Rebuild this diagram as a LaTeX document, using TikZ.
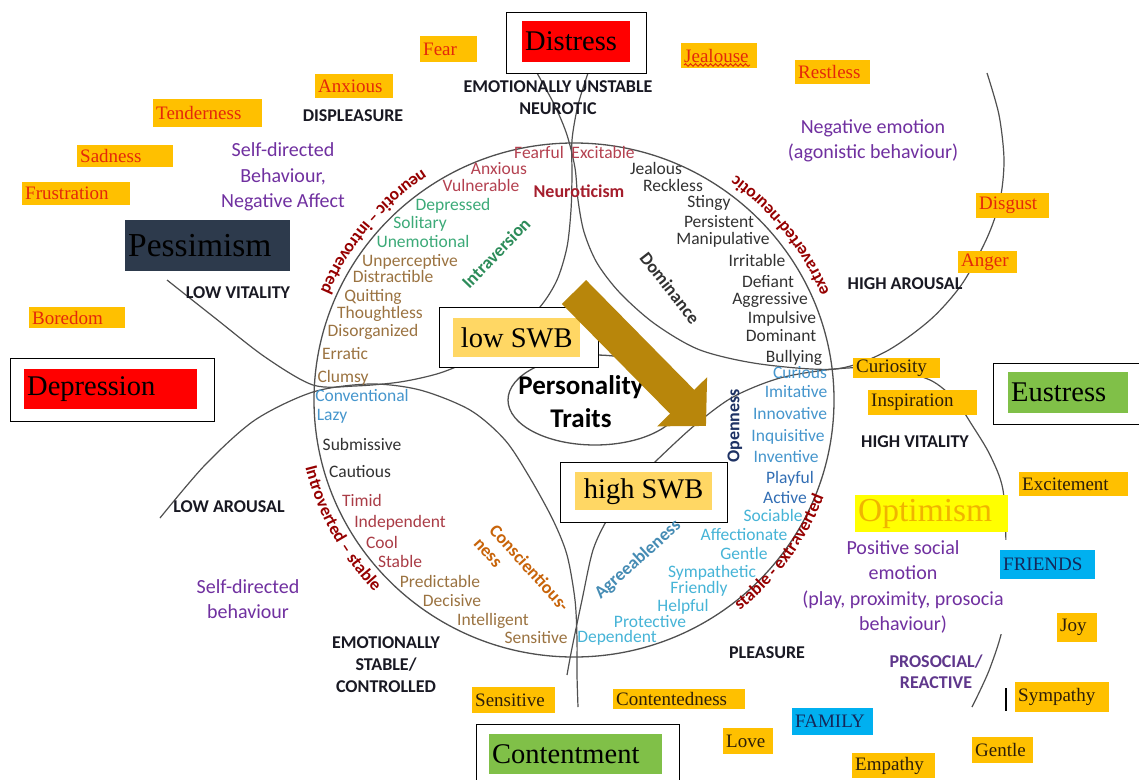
\documentclass[tikz,border=0pt]{standalone}
\usepackage{fontspec}
\setmainfont{Liberation Serif}
\newfontfamily\carlito{Carlito}
\usetikzlibrary{
    arrows.meta,
    decorations.text,
    decorations.pathmorphing
}
\lefthyphenmin=64

\definecolor{boxorange}{RGB}{255,192,0}
\definecolor{emored}{RGB}{228,40,10}
\definecolor{emodark}{RGB}{45,30,10}
\definecolor{alarmred}{RGB}{255,0,0}
\definecolor{slate}{RGB}{45,58,76}
\definecolor{leafgreen}{RGB}{128,192,72}
\definecolor{sunyellow}{RGB}{255,255,0}
\definecolor{sungold}{RGB}{240,180,0}
\definecolor{swbgold}{RGB}{255,215,100}
\definecolor{skyblue}{RGB}{0,176,240}
\definecolor{navytext}{RGB}{20,40,90}
\definecolor{moodpurple}{RGB}{112,48,160}
\definecolor{prosocpurple}{RGB}{95,55,140}
\definecolor{capsink}{RGB}{25,25,35}
\definecolor{rimred}{RGB}{150,0,0}
\definecolor{neurored}{RGB}{180,65,80}
\definecolor{neurobold}{RGB}{165,30,45}
\definecolor{domgray}{RGB}{50,50,50}
\definecolor{introgreen}{RGB}{60,170,120}
\definecolor{introbold}{RGB}{45,140,90}
\definecolor{conbrown}{RGB}{155,115,65}
\definecolor{stablered}{RGB}{170,60,70}
\definecolor{openblue}{RGB}{70,150,205}
\definecolor{activeblue}{RGB}{50,110,180}
\definecolor{agreecyan}{RGB}{70,180,215}
\definecolor{agreebold}{RGB}{70,140,180}
\definecolor{openbold}{RGB}{30,50,100}
\definecolor{conscorange}{RGB}{200,100,10}
\definecolor{arrowgold}{RGB}{184,134,11}
\definecolor{linegray}{RGB}{80,80,80}

\newcommand\traitfont{\carlito\fontsize{17.5}{19}\selectfont}
\newcommand\axisfont{\carlito\bfseries\fontsize{18}{19}\selectfont}
\newcommand\capsfont{\carlito\bfseries\fontsize{18}{22}\selectfont}
\newcommand\moodfont{\carlito\fontsize{20}{25.5}\selectfont}
\newcommand\rimfont{\carlito\bfseries\fontsize{17.5}{18}\selectfont}
\newcommand\boxfont{\fontsize{19}{22}\selectfont}
\newcommand\bigboxfont{\fontsize{28.5}{32}\selectfont}
\newcommand\hugeboxfont{\fontsize{33.5}{36}\selectfont}

\tikzset{%
    rim/.style={%
        draw=linegray,
        line width=1.3pt
    },
    petal/.style={%
        draw=linegray,
        line width=1.2pt
    },
    rim text/.style={%
        decorate,
        decoration={text along path, text align=center,
            text color=rimred, text={|\rimfont|#1}}
    },
    trait/.style={%
        font=\traitfont,
        inner sep=0pt,
        text height=12pt,
        text depth=3.5pt
    },
    axis label/.style={%
        font=\axisfont,
        inner sep=0pt
    },
    caps label/.style={%
        font=\capsfont,
        text=capsink,
        align=center,
        inner sep=0pt
    },
    mood label/.style={%
        font=\moodfont,
        text=moodpurple,
        align=center,
        inner sep=0pt
    },
    emotion/.style={%
        font=\boxfont,
        fill=boxorange,
        text=emored,
        anchor=north west,
        align=left,
        inner xsep=3pt,
        inner ysep=0pt
    },
    calm emotion/.style={%
        emotion,
        text=emodark
    },
    group/.style={%
        emotion,
        fill=skyblue,
        text=navytext
    },
    frame/.style={%
        draw=black,
        line width=1.4pt,
        fill=white,
        anchor=north west,
        inner sep=0pt
    },
    state/.style={%
        font=\bigboxfont,
        text=black,
        anchor=north west,
        align=left,
        inner xsep=3pt,
        inner ysep=0pt
    },
    swb/.style={%
        font=\bigboxfont,
        fill=swbgold,
        text=black,
        anchor=north west,
        inner sep=0pt
    },
    swb arrow/.style={%
        draw=arrowgold,
        line width=34pt,
        -{Triangle[length=34pt, width=68pt]}
    },
    spell mark/.style={%
        draw=emored,
        line width=0.9pt,
        decorate,
        decoration={snake, amplitude=1.3pt, segment length=5pt}
    }
}

\begin{document}
\begin{tikzpicture}[x=1pt, y=-1pt]
    \fill[white] (0,0) rectangle (1139,779);
    \useasboundingbox (0,0) rectangle (1139,779);

    % circle of traits and the four petals
    \draw[rim] (574,400) ellipse[x radius=260pt, y radius=257pt];
    \draw[rim] (595,400) ellipse[x radius=87pt, y radius=45pt];

    \draw[petal] plot[smooth] coordinates {(537,73) (555,106) (567,135) (575,168) (578,200)
        (584,232) (597,263) (620,293) (655,324) (700,350) (760,364) (835,369) (885,352)
        (930,320) (962,284) (987,238) (1000,200) (1004,160) (999,115) (987,73)};
    \draw[petal] plot[smooth] coordinates {(588,73) (578,105) (572,140) (572,175) (571,210)
        (567,247) (557,280) (540,307) (510,336) (475,358) (440,373) (400,382) (355,386)
        (313,385) (265,357) (215,318) (167,280)};
    \draw[petal] plot[smooth] coordinates {(160,518) (205,465) (255,420) (313,392) (370,384)
        (420,390) (470,410) (505,440) (530,478) (553,520) (567,555) (575,600) (577,640)
        (577,675) (578,707)};
    \draw[petal] plot[smooth] coordinates {(567,675) (572,648) (582,600) (593,550) (608,518)
        (627,490) (657,460) (695,425) (733,397) (780,378) (835,369) (885,368) (930,380)
        (955,400) (972,425) (990,455) (1003,490) (1006,550) (1004,620) (990,668) (972,707)};

    \path[rim text={neurotic – introverted}] ([shift={(574,400)}]115:276pt)
        arc[start angle=115, end angle=165, radius=276pt];
    \path[rim text={extraverted-neurotic}] ([shift={(574,400)}]15:277pt)
        arc[start angle=15, end angle=62, radius=277pt];
    \path[rim text={stable - extraverted}] ([shift={(574,400)}]-60:268pt)
        arc[start angle=-60, end angle=-13, radius=268pt];
    \path[rim text={Introverted – stable}] ([shift={(574,400)}]185:277pt)
        arc[start angle=185, end angle=233, radius=277pt];

    % purple behaviour texts (the last one hides the petal behind it)
    \node[mood label] (negaffect) at (283,177) {Self-directed\\Behaviour,\\Negative Affect};
    \node[mood label] (agonistic) at (873,141) {Negative emotion\\(agonistic behaviour)};
    \node[mood label] (selfdirected) at (248,599) {Self-directed\\behaviour};
    \node[mood label, fill=white, minimum width=208pt] (possocial) at (903,587) {Positive social\\emotion\\(play, proximity, prosocia\\behaviour)};

    % states in frames
    \node[frame, minimum width=140pt, minimum height=61pt] (distressframe) at (506,12) {};
    \node[state, fill=alarmred, text width=102pt, minimum height=41pt] (distress) at (522,21) {Distress};
    \node[frame, minimum width=204pt, minimum height=63pt] (depressionframe) at (10,358) {};
    \node[state, fill=alarmred, text width=167pt, minimum height=40pt] (depression) at (24,369) {Depression};
    \node[frame, minimum width=149pt, minimum height=61pt] (eustressframe) at (993,363) {};
    \node[state, fill=leafgreen, text width=114pt, minimum height=41pt] (eustress) at (1008,372) {Eustress};
    \node[frame, minimum width=203pt, minimum height=66pt] (contentmentframe) at (476,724) {};
    \node[state, fill=leafgreen, text width=167pt, minimum height=40pt] (contentment) at (489,734) {Contentment};
    \node[state, font=\hugeboxfont, fill=slate, text width=159pt, minimum height=51pt] (pessimism) at (125,220) {Pessimism};
    \node[state, font=\hugeboxfont, fill=sunyellow, text=sungold, text width=147pt, minimum height=37pt] (optimism) at (855,495) {Optimism};

    \node[frame, minimum width=159pt, minimum height=60pt] (lowswbframe) at (439,307) {};
    \node[swb, minimum width=127pt, minimum height=39pt] (lowswb) at (453,318) {low SWB};
    \node[frame, minimum width=167pt, minimum height=60pt] (highswbframe) at (560,462) {};
    \node[swb, minimum width=137pt, minimum height=38pt] (highswb) at (575,472) {high SWB};

    % emotions
    \node[emotion, text width=51pt, minimum height=26pt] (fear) at (420,36) {Fear};
    \node[emotion, text width=72pt, minimum height=24pt] (anxiousbox) at (315,74) {Anxious};
    \node[emotion, text width=103pt, minimum height=28pt] (tenderness) at (153,99) {Tenderness};
    \node[emotion, text width=90pt, minimum height=22pt] (sadness) at (77,145) {Sadness};
    \node[emotion, text width=102pt, minimum height=23pt] (frustration) at (22,182) {Frustration};
    \node[emotion, text width=90pt, minimum height=21pt] (boredom) at (29,307) {Boredom};
    \node[emotion, text width=70pt, minimum height=25pt] (jealouse) at (681,43) {Jealouse};
    \node[emotion, text width=69pt, minimum height=24pt] (restless) at (795,60) {Restless};
    \node[emotion, text width=67pt, minimum height=25pt] (disgust) at (976,193) {Disgust};
    \node[emotion, text width=53pt, minimum height=22pt] (anger) at (958,251) {Anger};
    \draw[spell mark] (684,65) -- (750,65);

    \node[calm emotion, text width=81pt, minimum height=20pt] (curiosity) at (853,358) {Curiosity};
    \node[calm emotion, text width=103pt, minimum height=25pt] (inspiration) at (868,390) {Inspiration};
    \node[calm emotion, text width=103pt, minimum height=24pt] (excitement) at (1019,472) {Excitement};
    \node[calm emotion, text width=34pt, minimum height=29pt] (joy) at (1057,613) {Joy};
    \node[calm emotion, text width=88pt, minimum height=30pt] (sympathy) at (1015,682) {Sympathy};
    \node[calm emotion, text width=55pt, minimum height=26pt] (gentlebox) at (972,737) {Gentle};
    \node[calm emotion, text width=77pt, minimum height=25pt] (empathy) at (852,753) {Empathy};
    \node[calm emotion, text width=44pt, minimum height=26pt] (love) at (723,728) {Love};
    \node[calm emotion, text width=126pt, minimum height=20pt] (contentedness) at (613,689) {Contentedness};
    \node[calm emotion, text width=77pt, minimum height=26pt] (sensitivebox) at (472,687) {Sensitive};
    \node[group, text width=89pt, minimum height=29pt] (friends) at (1000,550) {FRIENDS};
    \node[group, text width=75pt, minimum height=27pt] (family) at (792,708) {FAMILY};
    \draw[line width=1.8pt] (1006,688) -- (1006,711);

    % quadrant labels
    \node[caps label] (displeasure) at (353,116) {DISPLEASURE};
    \node[caps label] (unstable) at (558,98) {EMOTIONALLY UNSTABLE\\NEUROTIC};
    \node[caps label] (lowvitality) at (238,293) {LOW VITALITY};
    \node[caps label] (lowarousal) at (229,507) {LOW AROUSAL};
    \node[caps label] (higharousal) at (905,284) {HIGH AROUSAL};
    \node[caps label] (highvitality) at (915,442) {HIGH VITALITY};
    \node[caps label] (pleasure) at (767,653) {PLEASURE};
    \node[caps label] (stablectrl) at (386,665) {EMOTIONALLY\\STABLE/\\CONTROLLED};
    \node[caps label, text=prosocpurple, font=\carlito\bfseries\fontsize{18}{21}\selectfont] (prosocial) at (936,672) {PROSOCIAL/\\REACTIVE};

    % traits inside the circle
    \node[trait, text=neurored] (fearful) at (539,154) {Fearful};
    \node[trait, text=neurored] (excitable) at (603,154) {Excitable};
    \node[trait, text=neurored] (anxioustrait) at (499,170) {Anxious};
    \node[trait, text=neurored] (vulnerable) at (481,187) {Vulnerable};
    \node[axis label, text=neurobold] (neuroticism) at (579,191) {Neuroticism};

    \node[trait, text=domgray] (jealous) at (656,170) {Jealous};
    \node[trait, text=domgray] (reckless) at (673,187) {Reckless};
    \node[trait, text=domgray] (stingy) at (709,203) {Stingy};
    \node[trait, text=domgray] (persistent) at (719,223) {Persistent};
    \node[trait, text=domgray] (manipulative) at (723,240) {Manipulative};
    \node[trait, text=domgray] (irritable) at (757,262) {Irritable};
    \node[trait, text=domgray] (defiant) at (768,283) {Defiant};
    \node[trait, text=domgray] (aggressive) at (770,300) {Aggressive};
    \node[trait, text=domgray] (impulsive) at (782,319) {Impulsive};
    \node[trait, text=domgray] (dominant) at (781,337) {Dominant};
    \node[trait, text=domgray] (bullying) at (794,358) {Bullying};
    \node[axis label, text=domgray, rotate=-52] (dominance) at (670,288) {Dominance};

    \node[trait, text=openblue] (curious) at (800,374) {Curious};
    \node[trait, text=openblue] (imitative) at (796,393) {Imitative};
    \node[trait, text=openblue] (innovative) at (790,415) {Innovative};
    \node[trait, text=openblue] (inquisitive) at (788,437) {Inquisitive};
    \node[trait, text=openblue] (inventive) at (786,458) {Inventive};
    \node[trait, text=activeblue] (playful) at (790,479) {Playful};
    \node[trait, text=activeblue] (active) at (785,499) {Active};
    \node[axis label, text=openbold, rotate=90] (openness) at (735,426) {Openness};

    \node[trait, text=agreecyan] (sociable) at (773,517) {Sociable};
    \node[trait, text=agreecyan] (affectionate) at (744,536) {Affectionate};
    \node[trait, text=agreecyan] (gentletrait) at (744,555) {Gentle};
    \node[trait, text=agreecyan] (sympathetic) at (712,573) {Sympathetic};
    \node[trait, text=agreecyan] (friendly) at (699,589) {Friendly};
    \node[trait, text=agreecyan] (helpful) at (683,607) {Helpful};
    \node[trait, text=agreecyan] (protective) at (650,623) {Protective};
    \node[trait, text=agreecyan] (dependent) at (617,638) {Dependent};
    \node[axis label, text=agreebold, rotate=42] (agreeableness) at (638,560) {Agreeableness};

    \node[trait, text=conbrown] (sensitivetrait) at (536,639) {Sensitive};
    \node[trait, text=conbrown] (intelligent) at (493,621) {Intelligent};
    \node[trait, text=conbrown] (decisive) at (452,602) {Decisive};
    \node[trait, text=conbrown] (predictable) at (440,583) {Predictable};
    \node[axis label, text=conscorange, rotate=-48, anchor=west] (conscientious) at (493,527) {Conscientious-};
    \node[axis label, text=conscorange, rotate=-48, anchor=west] (ness) at (476,541) {ness};

    \node[trait, text=stablered] (stable) at (400,563) {Stable};
    \node[trait, text=stablered] (cool) at (382,544) {Cool};
    \node[trait, text=stablered] (independent) at (400,523) {Independent};
    \node[trait, text=stablered] (timid) at (362,502) {Timid};
    \node[trait, text=domgray] (cautious) at (360,473) {Cautious};
    \node[trait, text=domgray] (submissive) at (362,446) {Submissive};
    \node[trait, text=openblue] (lazy) at (332,416) {Lazy};
    \node[trait, text=openblue] (conventional) at (362,397) {Conventional};

    \node[trait, text=conbrown] (clumsy) at (343,378) {Clumsy};
    \node[trait, text=conbrown] (erratic) at (345,355) {Erratic};
    \node[trait, text=conbrown] (disorganized) at (373,332) {Disorganized};
    \node[trait, text=conbrown] (thoughtless) at (380,314) {Thoughtless};
    \node[trait, text=conbrown] (quitting) at (373,297) {Quitting};
    \node[trait, text=conbrown] (distractible) at (393,278) {Distractible};
    \node[trait, text=conbrown] (unperceptive) at (410,262) {Unperceptive};
    \node[trait, text=introgreen] (unemotional) at (423,243) {Unemotional};
    \node[trait, text=introgreen] (solitary) at (420,224) {Solitary};
    \node[trait, text=introgreen] (depressed) at (453,206) {Depressed};
    \node[axis label, text=introbold, rotate=46] (intraversion) at (496,253) {Intraversion};

    \node[font=\carlito\bfseries\fontsize{27}{33}\selectfont, align=center, inner sep=0pt] (traits) at (581,402) {Personality\\Traits};

    % from low to high SWB
    \coordinate (swbfrom) at (574,292);
    \coordinate (swbto) at (706,426);
    \draw[swb arrow] (swbfrom) -- (swbto);
\end{tikzpicture}
\end{document}
